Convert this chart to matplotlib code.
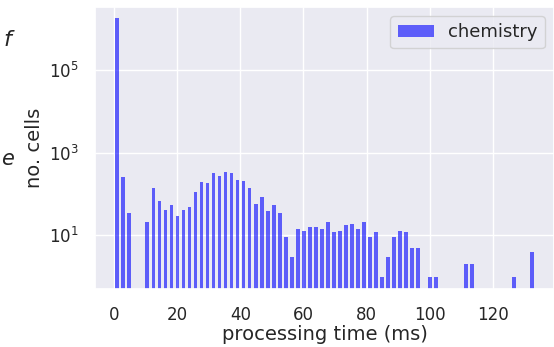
import numpy as np
import matplotlib
matplotlib.use("Agg")
import matplotlib.pyplot as plt
import seaborn as sns

# histogram of processing times, 70 bins between ~0.1 and ~133.4 ms
bin_lo = 0.1
bin_hi = 133.4
counts = [
    1840000, 254, 35, 0, 0, 21, 137, 69, 41, 55,
    29, 40, 48, 112, 192, 188, 318, 269, 348, 318,
    215, 203, 142, 59, 85, 38, 54, 35, 9, 3,
    14, 13, 16, 16, 14, 21, 12, 13, 18, 19,
    14, 21, 9, 12, 1, 3, 9, 13, 12, 5,
    5, 0, 1, 1, 0, 0, 0, 0, 2, 2,
    0, 0, 0, 0, 0, 0, 1, 0, 0, 4,
]
series_name = "chemistry"
x_ticks = [0, 20, 40, 60, 80, 100, 120]

sns.set_theme(style="darkgrid")
plt.rcParams["font.family"] = ["DejaVu Sans"]

edges = np.linspace(bin_lo, bin_hi, len(counts) + 1)
centers = (edges[:-1] + edges[1:]) / 2
bw = edges[1] - edges[0]
counts = np.array(counts, dtype=float)
mask = counts > 0

fig = plt.figure(figsize=(5.54, 3.47), dpi=100)
ax = fig.add_axes([95 / 554, 1 - 289 / 347, (554 - 95) / 554, (289 - 7) / 347])

ax.bar(centers[mask], counts[mask], width=bw * 0.62, color="blue", alpha=0.6,
       linewidth=0, label=series_name)
ax.set_yscale("log")
ax.set_ylim(10 ** -0.302, 10 ** 6.535)
ax.set_xlim(-6.0, 139.3)
ax.set_xticks(x_ticks)
ax.set_yticks([10, 1000, 100000])
ax.minorticks_off()
ax.tick_params(axis="both", labelsize=12, colors="#262626", pad=6)
ax.set_xlabel("processing time (ms)", fontsize=14, color="#262626", labelpad=1)
ax.set_ylabel("no. cells", fontsize=14, color="#262626", labelpad=3)
ax.legend(loc="upper right", fontsize=13, borderaxespad=0.5)

# fragments of the neighbouring page text
fig.text(11 / 554, 1 - 40 / 347, "f", fontsize=16, style="italic",
         ha="right", va="center")
fig.text(14 / 554, 1 - 159 / 347, "e", fontsize=15, style="italic",
         ha="right", va="center")

fig.savefig("out.png", dpi=100)
